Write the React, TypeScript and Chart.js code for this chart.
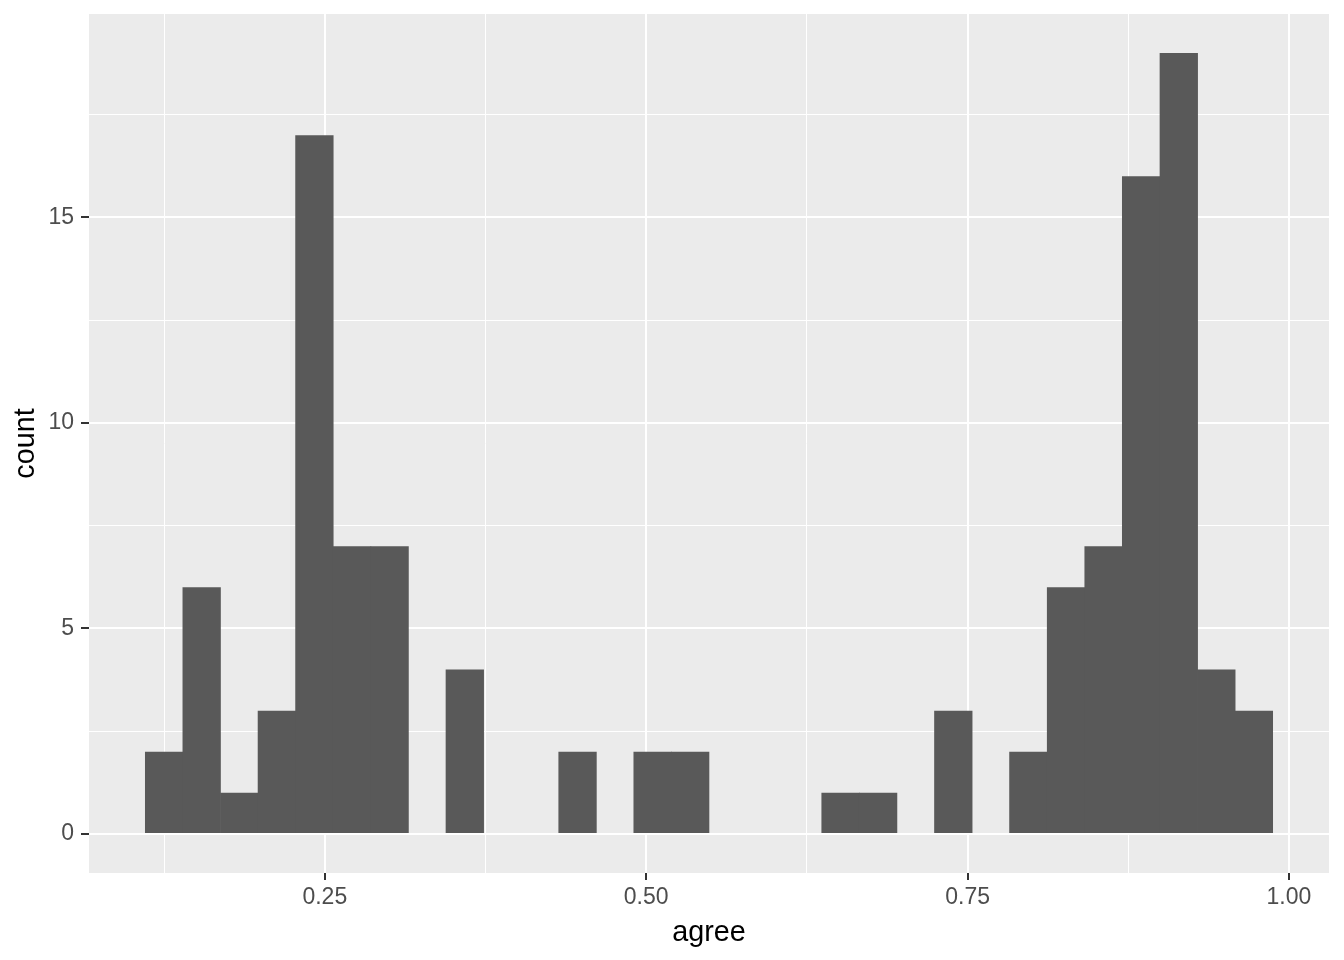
import React, { useEffect, useRef } from "react";
import { Chart, registerables } from "chart.js";

Chart.register(...registerables);

// Histogram bin centres (agree) and counts
const binCenters = [
  0.125, 0.1542, 0.1835, 0.2127, 0.2419, 0.2712, 0.3004, 0.3296, 0.3589, 0.3881,
  0.4173, 0.4466, 0.4758, 0.505, 0.5342, 0.5635, 0.5927, 0.6219, 0.6512, 0.6804,
  0.7096, 0.7389, 0.7681, 0.7973, 0.8266, 0.8558, 0.885, 0.9143, 0.9435, 0.9727,
];
const counts = [
  2, 6, 1, 3, 17, 7, 7, 0, 4, 0,
  0, 2, 0, 2, 2, 0, 0, 0, 1, 1,
  0, 3, 0, 2, 6, 7, 16, 19, 4, 3,
];
const xMajorTicks = [0.25, 0.5, 0.75, 1.0];
const xMinorTicks = [0.125, 0.375, 0.625, 0.875];
const yMajorTicks = [0, 5, 10, 15];
const yMinorTicks = [2.5, 7.5, 12.5, 17.5];
const xTitle = "agree";
const yTitle = "count";

const FONT = "'Liberation Sans', Arial, Helvetica, sans-serif";

const panelBg = {
  id: "panelBg",
  beforeDraw(chart: any) {
    const { ctx, chartArea } = chart;
    if (!chartArea) return;
    ctx.save();
    ctx.fillStyle = "#EBEBEB";
    ctx.fillRect(chartArea.left, chartArea.top, chartArea.right - chartArea.left, chartArea.bottom - chartArea.top);
    ctx.restore();
  },
};

const near = (v: number, list: number[]) => list.some((m) => Math.abs(m - v) < 1e-9);
const isMajor = (c: any, list: number[]) => !!(c && c.tick && near(c.tick.value, list));

export default function App() {
  const ref = useRef<HTMLCanvasElement | null>(null);

  useEffect(() => {
    document.body.style.margin = "0";
    const w = binCenters[1] - binCenters[0];
    const lo = binCenters[0] - w / 2;
    const hi = binCenters[binCenters.length - 1] + w / 2;
    const xPad = (hi - lo) * 0.05;
    const yMax = Math.max(...counts);
    const yPad = yMax * 0.05;

    const chart = new Chart(ref.current as HTMLCanvasElement, {
      type: "bar",
      data: {
        datasets: [
          {
            data: binCenters.map((x, i) => ({ x, y: counts[i] })),
            backgroundColor: (c: any) => (c.raw && c.raw.y === 0 ? "rgba(0,0,0,0)" : "#595959"),
            borderWidth: 0,
            barPercentage: 1.02,
            categoryPercentage: 1,
          },
        ],
      },
      plugins: [panelBg],
      options: {
        animation: false,
        responsive: true,
        maintainAspectRatio: false,
        layout: { padding: { top: 14, right: 15, left: 0, bottom: 0 } },
        plugins: { legend: { display: false }, tooltip: { enabled: false } },
        scales: {
          x: {
            type: "linear",
            offset: false,
            min: lo - xPad,
            max: hi + xPad,
            afterBuildTicks: (scale: any) => {
              scale.ticks = [...xMinorTicks, ...xMajorTicks].sort((a, b) => a - b).map((v) => ({ value: v }));
            },
            afterFit: (scale: any) => {
              scale.height = 87;
              scale.paddingLeft = 0;
              scale.paddingRight = 0;
            },
            border: { display: false },
            grid: {
              offset: false,
              color: "#FFFFFF",
              lineWidth: (c: any) => (isMajor(c, xMajorTicks) ? 2 : 1),
              tickColor: (c: any) => (isMajor(c, xMajorTicks) ? "#333333" : "rgba(0,0,0,0)"),
              tickWidth: 2,
              tickLength: 7,
              drawTicks: true,
            },
            ticks: {
              autoSkip: false,
              maxRotation: 0,
              padding: 4,
              color: "#4D4D4D",
              font: { family: FONT, size: 23 },
              callback: (v: any) => (near(Number(v), xMajorTicks) ? Number(v).toFixed(2) : ""),
            },
            title: {
              display: true,
              text: xTitle,
              color: "#000000",
              font: { family: FONT, size: 28.75 },
              padding: { top: 0, bottom: 10 },
            },
          },
          y: {
            type: "linear",
            min: -yPad,
            max: yMax + yPad,
            afterBuildTicks: (scale: any) => {
              scale.ticks = [...yMinorTicks, ...yMajorTicks].sort((a, b) => a - b).map((v) => ({ value: v }));
            },
            afterFit: (scale: any) => {
              scale.width = 89;
              scale.paddingTop = 0;
              scale.paddingBottom = 0;
            },
            border: { display: false },
            grid: {
              color: "#FFFFFF",
              lineWidth: (c: any) => (isMajor(c, yMajorTicks) ? 2 : 1),
              tickColor: (c: any) => (isMajor(c, yMajorTicks) ? "#333333" : "rgba(0,0,0,0)"),
              tickWidth: 2,
              tickLength: 8,
              drawTicks: true,
            },
            ticks: {
              autoSkip: false,
              padding: 7,
              color: "#4D4D4D",
              font: { family: FONT, size: 23 },
              callback: (v: any) => (near(Number(v), yMajorTicks) ? String(Number(v)) : ""),
            },
            title: {
              display: true,
              text: yTitle,
              color: "#000000",
              font: { family: FONT, size: 28.75 },
              padding: { top: 9, bottom: 0 },
            },
          },
        },
      },
    });
    return () => chart.destroy();
  }, []);

  return (
    <div style={{ position: "fixed", left: 0, top: 0, width: 1344, height: 960, background: "#FFFFFF" }}>
      <canvas ref={ref} />
    </div>
  );
}
